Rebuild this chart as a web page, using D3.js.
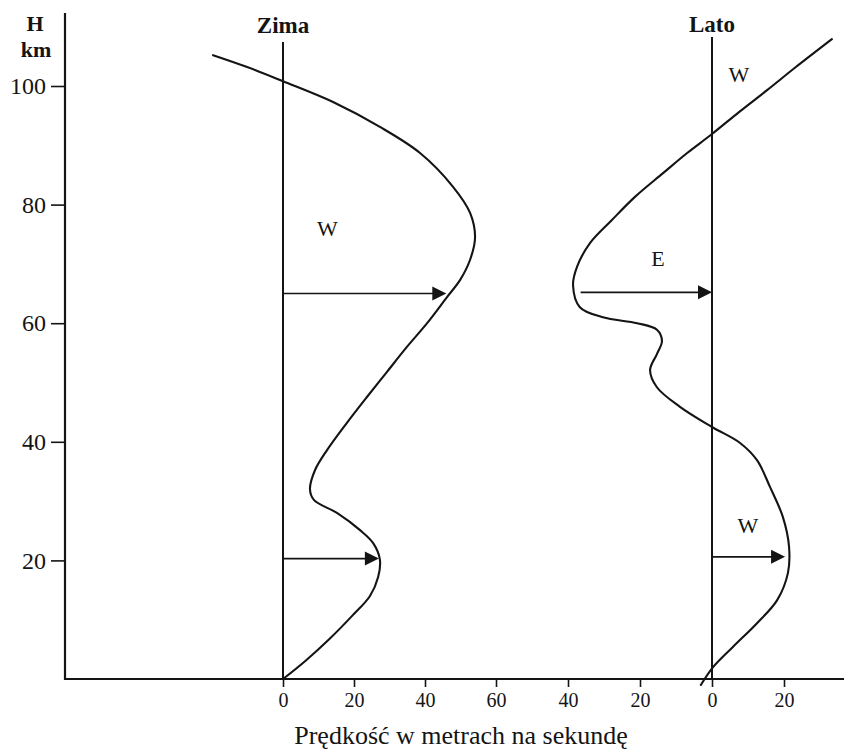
<!DOCTYPE html>
<html>
<head>
<meta charset="utf-8">
<script src="https://cdn.jsdelivr.net/npm/d3@7"></script>
<style>
  html, body { margin: 0; padding: 0; background: #fff; }
  svg { display: block; font-family: "Liberation Serif", "Times New Roman", serif; }
</style>
</head>
<body>
<svg id="chart" width="844" height="750"></svg>
<script>
// Wind speed profiles with height (m/s), winter and summer
const heightTicks = [20, 40, 60, 80, 100];
const zimaTicks = [0, 20, 40, 60];
const latoTicks = [-40, -20, 0, 20];

const zimaHeight = [105.2, 103.2, 100.8, 97.3, 93.1, 88.7, 83.0, 78.6, 74.5, 70.7, 67.3, 64.4, 60.0, 56.0, 51.8, 47.6, 43.2, 38.6, 35.2, 32.0, 30.2, 28.0, 25.1, 22.9, 20.1, 17.2, 14.0, 10.6, 6.7, 3.0, 0];
const zimaSpeed  = [-19.7, -10.1, 0, 14.1, 27.3, 38.6, 47.9, 52.7, 54.1, 52.7, 49.9, 46.2, 40.6, 34.9, 29.3, 23.7, 18.0, 12.4, 9.0, 7.6, 8.7, 15.2, 21.7, 25.4, 27.3, 26.8, 24.5, 19.4, 13.0, 6.2, 0];

const latoHeight = [107.9, 103.2, 99.3, 95.6, 91.9, 88.7, 85.3, 81.3, 77.4, 73.5, 69.5, 66.4, 62.7, 61.0, 60.0, 58.9, 57.0, 54.8, 52.1, 49.2, 45.9, 42.5, 39.8, 36.9, 32.4, 27.3, 22.3, 17.9, 13.3, 9.4, 5.4, 2.0, -1.0];
const latoSpeed  = [33.3, 23.3, 15.3, 7.5, 0, -6.9, -13.6, -21.4, -27.8, -33.9, -37.5, -38.6, -36.7, -30.3, -20.8, -15.3, -13.9, -15.3, -17.2, -15.3, -8.9, 0, 7.8, 12.5, 16.1, 19.7, 21.4, 21.1, 18.1, 12.5, 5.8, 0.3, -3.1];

// arrows: height, start speed, end speed
const zimaArrowH = [65, 20.3];
const zimaArrowFrom = [0, 0];
const zimaArrowTo = [46, 27.0];
const latoArrowH = [65.2, 20.6];
const latoArrowFrom = [-36.5, 0];
const latoArrowTo = [0, 20.3];

// direction letters
const zimaLetters = [{t: "W", s: 12.5, h: 76}];
const latoLetters = [{t: "W", s: 7.5, h: 102}, {t: "E", s: -15, h: 71}, {t: "W", s: 10, h: 26}];

const svg = d3.select("#chart");
const ink = "#141414";

const axisX = 65, baseY = 679, topY = 13;
const y = d3.scaleLinear().domain([0, 100]).range([baseY, 86]);
const xZ = d3.scaleLinear().domain([0, 60]).range([283, 496]);
const xL = d3.scaleLinear().domain([-40, 20]).range([568, 784]);

// left height axis
const gy = svg.append("g")
  .attr("transform", `translate(${axisX},0)`)
  .call(d3.axisLeft(y).tickValues(heightTicks).tickSize(14).tickPadding(5).tickFormat(d3.format("d")));
gy.select(".domain").remove();
gy.selectAll(".tick line").attr("stroke", ink).attr("stroke-width", 1.6);
gy.selectAll(".tick text").attr("fill", ink).style("font-size", "24px").style("font-family", "Liberation Serif");
svg.append("line").attr("x1", axisX).attr("x2", axisX).attr("y1", topY).attr("y2", baseY + 1)
  .attr("stroke", ink).attr("stroke-width", 2.2);

svg.append("text").attr("x", 35).attr("y", 31).attr("text-anchor", "middle")
  .style("font-size", "22px").style("font-weight", "bold").attr("fill", ink).text("H");
svg.append("text").attr("x", 36).attr("y", 57).attr("text-anchor", "middle")
  .style("font-size", "22px").style("font-weight", "bold").attr("fill", ink).text("km");

// bottom baseline and speed axes
svg.append("line").attr("x1", axisX).attr("x2", 844).attr("y1", baseY).attr("y2", baseY)
  .attr("stroke", ink).attr("stroke-width", 2.2);

function speedAxis(scale, ticks) {
  const g = svg.append("g")
    .attr("transform", `translate(0,${baseY})`)
    .call(d3.axisBottom(scale).tickValues(ticks).tickSize(8).tickPadding(6).tickFormat(d => Math.abs(d)));
  g.select(".domain").remove();
  g.selectAll(".tick line").attr("stroke", ink).attr("stroke-width", 1.6);
  g.selectAll(".tick text").attr("fill", ink).style("font-size", "20px").style("font-family", "Liberation Serif");
}
speedAxis(xZ, zimaTicks);
speedAxis(xL, latoTicks);

svg.append("text").attr("x", 461).attr("y", 744).attr("text-anchor", "middle")
  .style("font-size", "26px").attr("fill", ink).text("Prędkość w metrach na sekundę");

// zero-speed reference lines with season titles
svg.append("line").attr("x1", xZ(0)).attr("x2", xZ(0)).attr("y1", 42).attr("y2", baseY)
  .attr("stroke", ink).attr("stroke-width", 2);
svg.append("line").attr("x1", xL(0)).attr("x2", xL(0)).attr("y1", 37).attr("y2", baseY)
  .attr("stroke", ink).attr("stroke-width", 2);
svg.append("text").attr("x", xZ(0)).attr("y", 33).attr("text-anchor", "middle")
  .style("font-size", "23px").style("font-weight", "bold").attr("fill", ink).text("Zima");
svg.append("text").attr("x", xL(0)).attr("y", 32).attr("text-anchor", "middle")
  .style("font-size", "23px").style("font-weight", "bold").attr("fill", ink).text("Lato");

// profiles: speed against height, smooth spline through the readings
function profile(xs, heights, speeds) {
  const pts = heights.map((h, i) => [xs(speeds[i]), y(h)]);
  svg.append("path")
    .attr("d", d3.line().curve(d3.curveCatmullRom.alpha(0.5))(pts))
    .attr("fill", "none").attr("stroke", ink).attr("stroke-width", 2.1)
    .attr("stroke-linecap", "round").attr("stroke-linejoin", "round");
}
profile(xZ, zimaHeight, zimaSpeed);
profile(xL, latoHeight, latoSpeed);

// arrows
function arrows(xs, hs, from, to) {
  hs.forEach((h, i) => {
    const x0 = xs(from[i]), x1 = xs(to[i]), yy = y(h);
    const dir = x1 > x0 ? 1 : -1;
    const len = 14, half = 7;
    svg.append("line").attr("x1", x0).attr("x2", x1 - dir * len + dir).attr("y1", yy).attr("y2", yy)
      .attr("stroke", ink).attr("stroke-width", 1.6);
    svg.append("path")
      .attr("d", `M${x1},${yy}L${x1 - dir * len},${yy - half}L${x1 - dir * len},${yy + half}Z`)
      .attr("fill", ink);
  });
}
arrows(xZ, zimaArrowH, zimaArrowFrom, zimaArrowTo);
arrows(xL, latoArrowH, latoArrowFrom, latoArrowTo);

// direction letters
function letters(xs, list) {
  svg.selectAll(null).data(list).enter().append("text")
    .attr("x", d => xs(d.s)).attr("y", d => y(d.h)).attr("dy", "0.35em")
    .attr("text-anchor", "middle").style("font-size", "22px").attr("fill", ink)
    .text(d => d.t);
}
letters(xZ, zimaLetters);
letters(xL, latoLetters);
</script>
</body>
</html>
